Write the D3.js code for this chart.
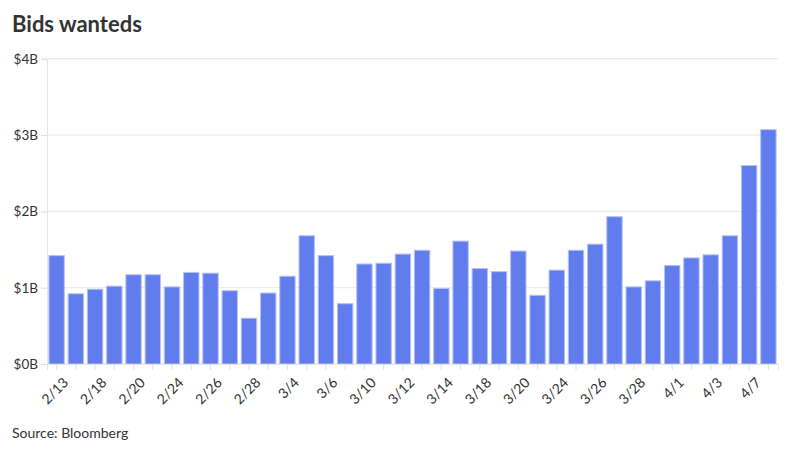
<!DOCTYPE html>
<html><head><meta charset="utf-8">
<script src="https://cdn.jsdelivr.net/npm/d3@7"></script>
<style>body{margin:0;background:#fff;font-family:Lato,"Open Sans",sans-serif;}</style>
</head><body>
<svg id="c" width="800" height="450"></svg>
<script>
const dates = ["2/13","2/14","2/18","2/19","2/20","2/21","2/24","2/25","2/26","2/27","2/28","3/3","3/4","3/5","3/6","3/7","3/10","3/11","3/12","3/13","3/14","3/17","3/18","3/19","3/20","3/21","3/24","3/25","3/26","3/27","3/28","3/31","4/1","4/2","4/3","4/4","4/7","4/8"];
const values = [1.42,0.92,0.98,1.02,1.17,1.17,1.01,1.20,1.19,0.96,0.60,0.93,1.15,1.68,1.42,0.79,1.31,1.32,1.44,1.49,0.99,1.61,1.25,1.21,1.48,0.90,1.23,1.49,1.57,1.93,1.01,1.09,1.29,1.39,1.43,1.68,2.60,3.07];
const yTicks = [0,1,2,3,4];

const svg = d3.select("#c");
const m = {l:47, r:22, t:58.7, b:86};
const W = 800, H = 450;
const x = d3.scaleBand().domain(dates).range([m.l, W-m.r]).paddingInner(0.2).paddingOuter(0.1);
const y = d3.scaleLinear().domain([0,4]).range([364, 58.7]);

svg.append("text").attr("x",12).attr("y",32).attr("font-size",22).attr("font-weight",700)
  .attr("fill","#333").attr("font-family","Lato").text("Bids wanteds");

// grid
svg.append("g").selectAll("line").data(yTicks).join("line")
  .attr("x1",m.l).attr("x2",W-m.r).attr("y1",d=>y(d)).attr("y2",d=>y(d))
  .attr("stroke","#e8e8ec").attr("stroke-width",1);

// y axis
const ya = svg.append("g").attr("transform",`translate(${m.l},0)`)
  .call(d3.axisLeft(y).tickValues(yTicks).tickSize(6).tickPadding(3).tickFormat(d=>"$"+d+"B"));
ya.select(".domain").attr("stroke","#e6e6ea");
ya.selectAll(".tick line").attr("stroke","#e0e0e4");
ya.selectAll("text").attr("font-size",13.5).attr("fill","#333").attr("font-family","Lato");

// bars
svg.append("g").selectAll("rect").data(values).join("rect")
  .attr("x",(d,i)=>x(dates[i])).attr("width",x.bandwidth())
  .attr("y",d=>y(d)).attr("height",d=>y(0)-y(d))
  .attr("fill","#617ded").attr("stroke","#b4c1f5").attr("stroke-width",1);

// x axis
const xa = svg.append("g").attr("transform",`translate(0,364)`)
  .call(d3.axisBottom(x).tickSize(6).tickPadding(4).tickFormat((d,i)=> i%2===0 ? d : ""));
xa.select(".domain").attr("stroke","#e6e6ea");
xa.selectAll(".tick line").attr("stroke","#e0e0e4");
xa.selectAll("text").attr("font-size",14).attr("fill","#333").attr("font-family","Lato")
  .attr("text-anchor","end").attr("dy","0.35em")
  .attr("transform","translate(2,9) rotate(-45)");

svg.append("text").attr("x",12).attr("y",438).attr("font-size",14).attr("fill","#333")
  .attr("font-family","Lato").text("Source: Bloomberg");
</script>
</body></html>
